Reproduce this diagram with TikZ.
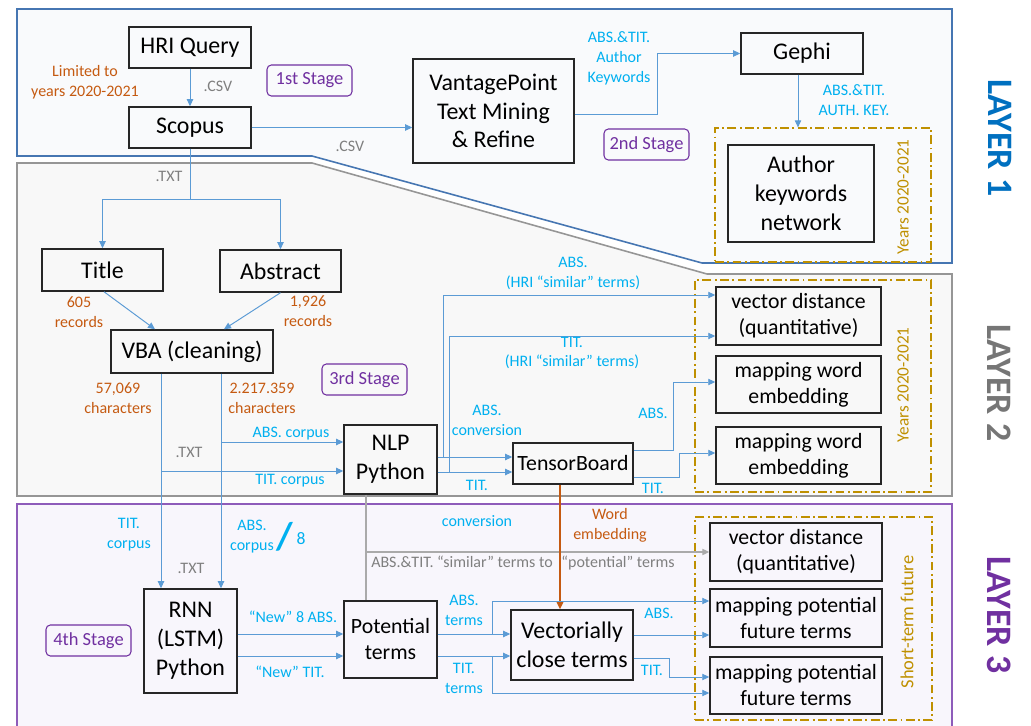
\documentclass[tikz,border=0pt]{standalone}
\usepackage{fontspec}
\setmainfont{Carlito}
\usetikzlibrary{arrows.meta,calc}

\definecolor{lineblue}{RGB}{91,155,213}
\definecolor{labelblue}{RGB}{0,176,240}
\definecolor{ochre}{RGB}{197,90,17}
\definecolor{gold}{RGB}{191,144,0}
\definecolor{stagepurple}{RGB}{112,48,160}
\definecolor{layerone}{RGB}{0,112,192}
\definecolor{layertwo}{RGB}{118,118,118}
\definecolor{frameone}{RGB}{70,118,178}
\definecolor{frametwo}{RGB}{150,150,150}
\definecolor{framethree}{RGB}{142,92,186}
\definecolor{greyline}{RGB}{170,170,170}
\definecolor{greytext}{RGB}{127,127,127}

\begin{document}
\begin{tikzpicture}[x=0.02cm,y=-0.02cm,
    box/.style={draw=black!85,line width=0.85pt,align=center,inner sep=0pt,
      font=\fontsize{13.6}{16.4}\selectfont},
    rbox/.style={box,font=\fontsize{12.4}{14.8}\selectfont},
    stagebox/.style={draw=stagepurple,rounded corners=2.5pt,line width=0.6pt,text=stagepurple,
      minimum width=1.7cm,minimum height=0.62cm,inner sep=0pt,font=\fontsize{10.5}{12}\selectfont},
    yearbox/.style={draw=gold,line width=0.7pt,dash pattern=on 5pt off 2pt on 1pt off 2pt,inner sep=0pt},
    yeartext/.style={text=gold,rotate=90,inner sep=0pt},
    conn/.style={draw=lineblue,line width=0.55pt,-{Triangle[length=4pt,width=3.6pt]}},
    greyconn/.style={draw=greyline,line width=0.7pt},
    lbl/.style={text=labelblue,align=center,inner sep=0pt,font=\fontsize{9.1}{11.3}\selectfont},
    olbl/.style={lbl,text=ochre},
    glbl/.style={lbl,text=greytext},
    layer/.style={font=\bfseries\fontsize{20.4}{24}\selectfont,rotate=-90,inner sep=0pt}]

  \clip (0,0) rectangle (1031,726);
  \fill[white] (0,0) rectangle (1031,726);

  % the three layers
  \filldraw[fill={rgb,255:red,249;green,250;blue,252},draw=frameone,line width=0.9pt]
    (17,9) -- (952,9) -- (952,263) -- (702,263) -- (312,156) -- (17,156) -- cycle;
  \filldraw[fill={rgb,255:red,248;green,248;blue,248},draw=frametwo,line width=0.9pt]
    (17,163) -- (312,163) -- (707,274) -- (952,274) -- (952,496) -- (17,496) -- cycle;
  \filldraw[fill={rgb,255:red,248;green,246;blue,252},draw=framethree,line width=1pt]
    (17,504) rectangle (952,740);

  % layer 1
  \node[box,minimum width=2.44cm,minimum height=0.82cm] (hri) at (190,47.5) {HRI Query};
  \node[box,minimum width=2.44cm,minimum height=0.82cm] (scopus) at (190,127.5) {Scopus};
  \node[box,minimum width=3.22cm,minimum height=2.08cm] (vp) at (493.5,111) {VantagePoint\\Text Mining\\\& Refine};
  \node[box,minimum width=2.44cm,minimum height=0.82cm] (gephi) at (802,53.5) {Gephi};
  \node[yearbox,minimum width=4.32cm,minimum height=2.68cm] (yrs1) at (823,195) {};
  \node[box,minimum width=2.92cm,minimum height=1.94cm] (akn) at (801,193.5) {Author\\keywords\\network};

  % layer 2
  \node[box,minimum width=2.42cm,minimum height=0.84cm] (title) at (102.5,270) {Title};
  \node[box,minimum width=2.42cm,minimum height=0.84cm] (abstract) at (280.5,271) {Abstract};
  \node[box,minimum width=3.24cm,minimum height=0.86cm] (vba) at (192,351.5) {VBA (cleaning)};
  \node[box,minimum width=1.86cm,minimum height=1.38cm] (nlp) at (390.5,459.5) {NLP\\Python};
  \node[rbox,minimum width=2.4cm,minimum height=0.82cm] (tb) at (573,463.5) {TensorBoard};
  \node[yearbox,minimum width=4.72cm,minimum height=4.24cm] (yrs2) at (813,386) {};
  \node[rbox,minimum width=3.3cm,minimum height=1.16cm] (vd2) at (798.5,316) {vector distance\\(quantitative)};
  \node[rbox,minimum width=3.3cm,minimum height=1.14cm] (mwe1) at (798.5,384.5) {mapping word\\embedding};
  \node[rbox,minimum width=3.3cm,minimum height=1.14cm] (mwe2) at (798.5,455.5) {mapping word\\embedding};

  % layer 3
  \node[box,minimum width=1.86cm,minimum height=2.08cm] (rnn) at (190.5,641) {RNN\\(LSTM)\\Python};
  \node[rbox,minimum width=1.86cm,minimum height=1.54cm] (pot) at (390.5,639.5) {Potential\\terms};
  \node[box,minimum width=2.44cm,minimum height=1.4cm] (vct) at (572,645) {Vectorially\\close terms};
  \node[yearbox,minimum width=4.74cm,minimum height=4.06cm] (yrs3) at (813.5,618.5) {};
  \node[rbox,minimum width=3.44cm,minimum height=1.16cm] (vd3) at (796,552) {vector distance\\(quantitative)};
  \node[rbox,minimum width=3.44cm,minimum height=1.16cm] (mpf1) at (796,618) {mapping potential\\future terms};
  \node[rbox,minimum width=3.44cm,minimum height=1.14cm] (mpf2) at (796,685.5) {mapping potential\\future terms};

  \foreach \n/\x/\y/\t in {st1/309.5/80.5/1st, st2/646.5/144.5/2nd, st3/364.5/379.5/3rd, st4/88.5/640.5/4th}
    \node[stagebox] (\n) at (\x,\y) {\t\ Stage};

  \node[yeartext,font=\fontsize{9.8}{12}\selectfont] (yra) at (903,197) {Years 2020-2021};
  \node[yeartext,font=\fontsize{9.8}{12}\selectfont] (yrb) at (903,385) {Years 2020-2021};
  \node[yeartext,font=\fontsize{10.5}{12}\selectfont] (stf) at (907,622) {Short-term future};

  \node[layer,text=layerone] (lay1) at (1000,138) {LAYER 1};
  \node[layer,text=layertwo] (lay2) at (999,383) {LAYER 2};
  \node[layer,text=stagepurple] (lay3) at (999,615) {LAYER 3};

  % connectors, layer 1
  \draw[conn] (hri) -- (scopus);
  \draw[conn] (scopus.east) -- (scopus.east -| vp.west);
  \draw[conn] ($(vp.east)+(0,3)$) -| ($(gephi.west)+(-83,0)$) -- (gephi.west);
  \draw[conn] ($(gephi.south)+(-4,0)$) coordinate (gs) -- (gs |- yrs1.north);

  % connectors, layer 2
  \draw[conn] (scopus.south) -- ++(0,51) -| (title.north);
  \draw[conn] (scopus.south) -- ++(0,51) -| (abstract.north);
  \draw[conn] ($(title.south)+(1.5,0)$) -- ($(vba.north)+(-37,0)$);
  \draw[conn] (abstract.south) -- ($(vba.north)+(32,0)$);
  \coordinate (tcol) at (161,0);
  \coordinate (acol) at (221,0);
  \draw[conn] (vba.south -| tcol) -- (rnn.north -| tcol);
  \draw[conn] (vba.south -| acol) -- (rnn.north -| acol);
  \draw[conn] ($(nlp.west)+(0,-17.5)$) coordinate (na) (na -| acol) -- (na);
  \draw[conn] ($(nlp.west)+(0,11.5)$) coordinate (nt) (nt -| tcol) -- (nt);
  \draw[conn] ($(nlp.east)+(0,-2.5)$) -- ($(tb.west)+(0,-6.5)$);
  \draw[conn] ($(nlp.east)+(0,12.5)$) -- ($(tb.west)+(0,8.5)$);
  \draw[conn] ($(nlp.east)+(6,-2.5)$) |- ($(vd2.west)+(0,-21)$);
  \draw[conn] ($(nlp.east)+(12,12.5)$) |- ($(vd2.west)+(0,20)$);
  \draw[conn] ($(tb.east)+(0,-13)$) -| ($(mwe1.west)+(-42,-2.5)$) -- ($(mwe1.west)+(0,-2.5)$);
  \draw[conn] ($(tb.east)+(0,13.5)$) -| ($(mwe2.west)+(-36,-2.5)$) -- ($(mwe2.west)+(0,-2.5)$);

  % connectors, layer 3
  \coordinate (gcol) at ($(nlp.south)+(-24.5,0)$);
  \draw[greyconn] (gcol) -- (gcol |- pot.north);
  \draw[greyconn,-{Triangle[length=4pt,width=3.6pt]}] (gcol |- vd3.west) -- (vd3.west);
  \draw[draw=ochre,line width=0.9pt,-{Triangle[length=4pt,width=3.6pt]}]
    ($(tb.south)+(-13,0)$) coordinate (ts) -- (ts |- vct.north);
  \draw[conn] ($(rnn.east)+(0,-7)$) coordinate (ra) -- (ra -| pot.west);
  \draw[conn] ($(rnn.east)+(0,15)$) coordinate (rt) -- (rt -| pot.west);
  \draw[conn] ($(pot.east)+(0,-5.5)$) coordinate (pa) -- (pa -| vct.west);
  \draw[conn] ($(pot.east)+(0,16.5)$) coordinate (pt) -- (pt -| vct.west);
  \draw[conn] ($(pa)+(55,0)$) |- ($(mpf1.west)+(0,-17)$);
  \draw[conn] ($(pt)+(55,0)$) |- ($(mpf2.west)+(0,7.5)$);
  \draw[conn] ($(vct.east)+(0,-10)$) coordinate (va) -- (va -| mpf1.west);
  \draw[conn] ($(vct.east)+(0,13)$) -| ($(mpf2.west)+(-40,-8.5)$) -- ($(mpf2.west)+(0,-8.5)$);

  % labels
  \node[olbl] (limit) at (85,82) {Limited to\\years 2020-2021};
  \node[glbl] (csva) at (218,86) {.CSV};
  \node[glbl] (csvb) at (350,146) {.CSV};
  \node[lbl] (kwds) at (619,58) {ABS.\&TIT.\\Author\\Keywords};
  \node[lbl] (akey) at (854,100) {ABS.\&TIT.\\AUTH. KEY.};
  \node[glbl] (txta) at (169,176) {.TXT};
  \node[olbl] (reca) at (79,312) {605\\records};
  \node[olbl] (recb) at (308,311) {1,926\\records};
  \node[olbl] (chra) at (118,398) {57,069\\characters};
  \node[olbl] (chrb) at (262,398) {2.217.359\\characters};
  \node[lbl] (abscorp) at (291,434) {ABS. corpus};
  \node[lbl] (titcorp) at (290,481) {TIT. corpus};
  \node[glbl] (txtb) at (189,452) {.TXT};
  \node[lbl] (abssim) at (573,273) {ABS.\\(HRI “similar” terms)};
  \node[lbl] (titsim) at (572,353) {TIT.\\(HRI “similar” terms)};
  \node[lbl] (absconv) at (487,420) {ABS.\\conversion};
  \node[lbl] (tita) at (477,485) {TIT.};
  \node[lbl] (absa) at (653,413) {ABS.};
  \node[lbl] (titb) at (653,488) {TIT.};
  \node[lbl] (conv) at (477,521) {conversion};
  \node[olbl] (wemb) at (610,525) {Word\\embedding};
  \node[glbl] (simpot) at (523,563) {ABS.\&TIT. “similar” terms to\hspace{5pt}“potential” terms};
  \node[lbl] (titcorpb) at (129,535) {TIT.\\corpus};
  \node[lbl] (abscorpb) at (252,537) {ABS.\\corpus};
  \node[lbl,font=\bfseries\fontsize{22}{22}\selectfont] (slash) at (285,537) {/};
  \node[lbl,font=\fontsize{10}{12}\selectfont] (eight) at (301,539) {8};
  \node[glbl] (txtc) at (191,568) {.TXT};
  \node[lbl] (newabs) at (293,617) {“New” 8 ABS.};
  \node[lbl] (newtit) at (290,672) {“New” TIT.};
  \node[lbl] (absterm) at (464,610) {ABS.\\terms};
  \node[lbl] (titterm) at (464,678) {TIT.\\terms};
  \node[lbl] (absb) at (659,613) {ABS.};
  \node[lbl] (titc) at (652,670) {TIT.};
\end{tikzpicture}
\end{document}
